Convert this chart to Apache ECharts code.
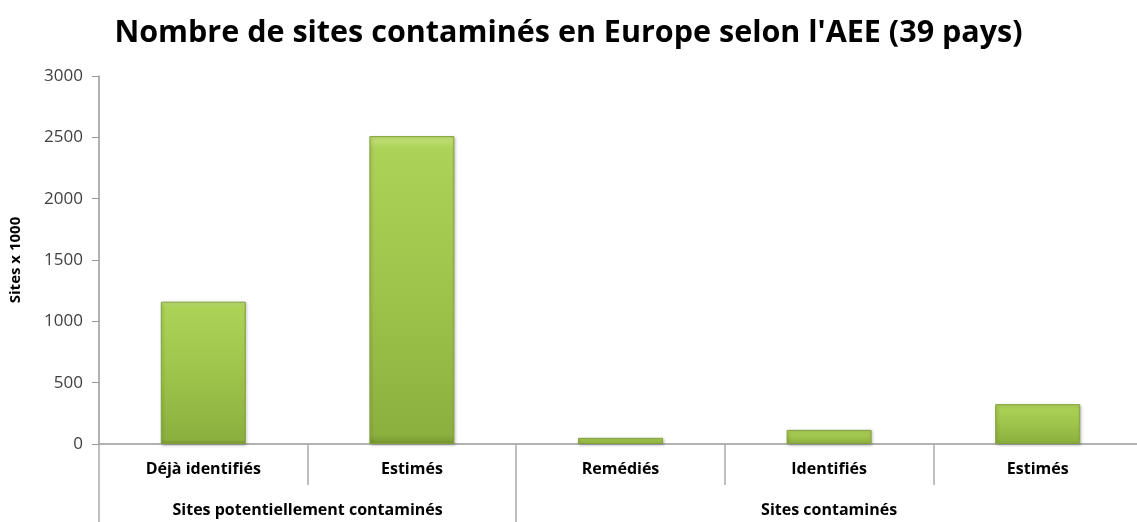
<!DOCTYPE html>
<html>
<head>
<meta charset="utf-8">
<script src="https://cdn.jsdelivr.net/npm/echarts@6/dist/echarts.min.js"></script>
<style>
  html, body { margin: 0; padding: 0; background: #fff; }
  #chart { width: 1137px; height: 522px; }
</style>
</head>
<body>
<div id="chart"></div>
<script>
// données
const categories = ["Déjà identifiés", "Estimés", "Remédiés", "Identifiés", "Estimés"];
const values = [1160, 2510, 50, 115, 325];
const groupNames = ["Sites potentiellement contaminés", "Sites contaminés"];
const groupSpans = [2, 3];
const yTicks = [0, 500, 1000, 1500, 2000, 2500, 3000];

// bornes et centres des groupes, en unités de catégories
const groupBounds = [0];
const groupCenters = [];
groupSpans.forEach(function (s) {
  const start = groupBounds[groupBounds.length - 1];
  groupCenters.push(start + s / 2);
  groupBounds.push(start + s);
});

const chart = echarts.init(document.getElementById("chart"));

const barColor = new echarts.graphic.LinearGradient(0, 0, 0, 1, [
  { offset: 0, color: "#c6e47a" },
  { offset: 0.04, color: "#acd257" },
  { offset: 0.5, color: "#9fc44b" },
  { offset: 0.97, color: "#8cb03f" },
  { offset: 1, color: "#76962f" },
]);

const option = {
  backgroundColor: "#ffffff",
  animation: false,
  title: {
    text: "Nombre de sites contaminés en Europe selon l'AEE (39 pays)",
    left: "center",
    top: 13,
    textStyle: {
      fontFamily: "Open Sans",
      fontWeight: "bold",
      fontSize: 30.5,
      color: "#000",
    },
  },
  // la zone de tracé dépasse un peu à droite, comme dans l'original
  grid: { left: 99, right: -5, top: 76, bottom: 78, outerBoundsMode: "none" },
  xAxis: [
    {
      type: "category",
      data: categories,
      axisLine: { lineStyle: { color: "#999", width: 1.5 } },
      axisTick: {
        show: true,
        interval: 0,
        length: 41,
        lineStyle: { color: "#aaa", width: 1.5 },
      },
      axisLabel: {
        interval: 0,
        margin: 17,
        fontFamily: "Open Sans",
        fontWeight: "bold",
        fontSize: 16,
        color: "#000",
      },
    },
    {
      type: "value",
      min: 0,
      max: categories.length,
      position: "bottom",
      splitLine: { show: false },
      axisLine: { show: false },
      axisTick: {
        show: true,
        length: 78,
        customValues: groupBounds.slice(0, -1),
        lineStyle: { color: "#aaa", width: 1.5 },
      },
      axisLabel: {
        customValues: groupCenters,
        margin: 58,
        fontFamily: "Open Sans",
        fontWeight: "bold",
        fontSize: 16,
        color: "#000",
        formatter: function (v) {
          return groupNames[groupCenters.indexOf(v)];
        },
      },
    },
  ],
  yAxis: {
    type: "value",
    min: yTicks[0],
    max: yTicks[yTicks.length - 1],
    interval: 500,
    name: "Sites x 1000",
    nameLocation: "middle",
    nameGap: 76,
    nameTextStyle: {
      fontFamily: "Open Sans",
      fontWeight: "bold",
      fontSize: 15,
      color: "#000",
    },
    splitLine: { show: false },
    axisLine: { show: true, lineStyle: { color: "#999", width: 1.5 } },
    axisTick: { show: true, length: 7, lineStyle: { color: "#999" } },
    axisLabel: {
      margin: 16,
      fontFamily: "Open Sans",
      fontSize: 17,
      color: "#404040",
      formatter: function (v) { return String(v); },
    },
  },
  series: [
    {
      type: "bar",
      xAxisIndex: 0,
      data: values,
      barWidth: 85,
      itemStyle: {
        color: barColor,
        borderColor: "#84a33c",
        borderWidth: 1,
        shadowColor: "rgba(0,0,0,0.25)",
        shadowBlur: 3,
        shadowOffsetX: 1,
        shadowOffsetY: 1,
      },
    },
  ],
};

chart.setOption(option);
</script>
</body>
</html>
